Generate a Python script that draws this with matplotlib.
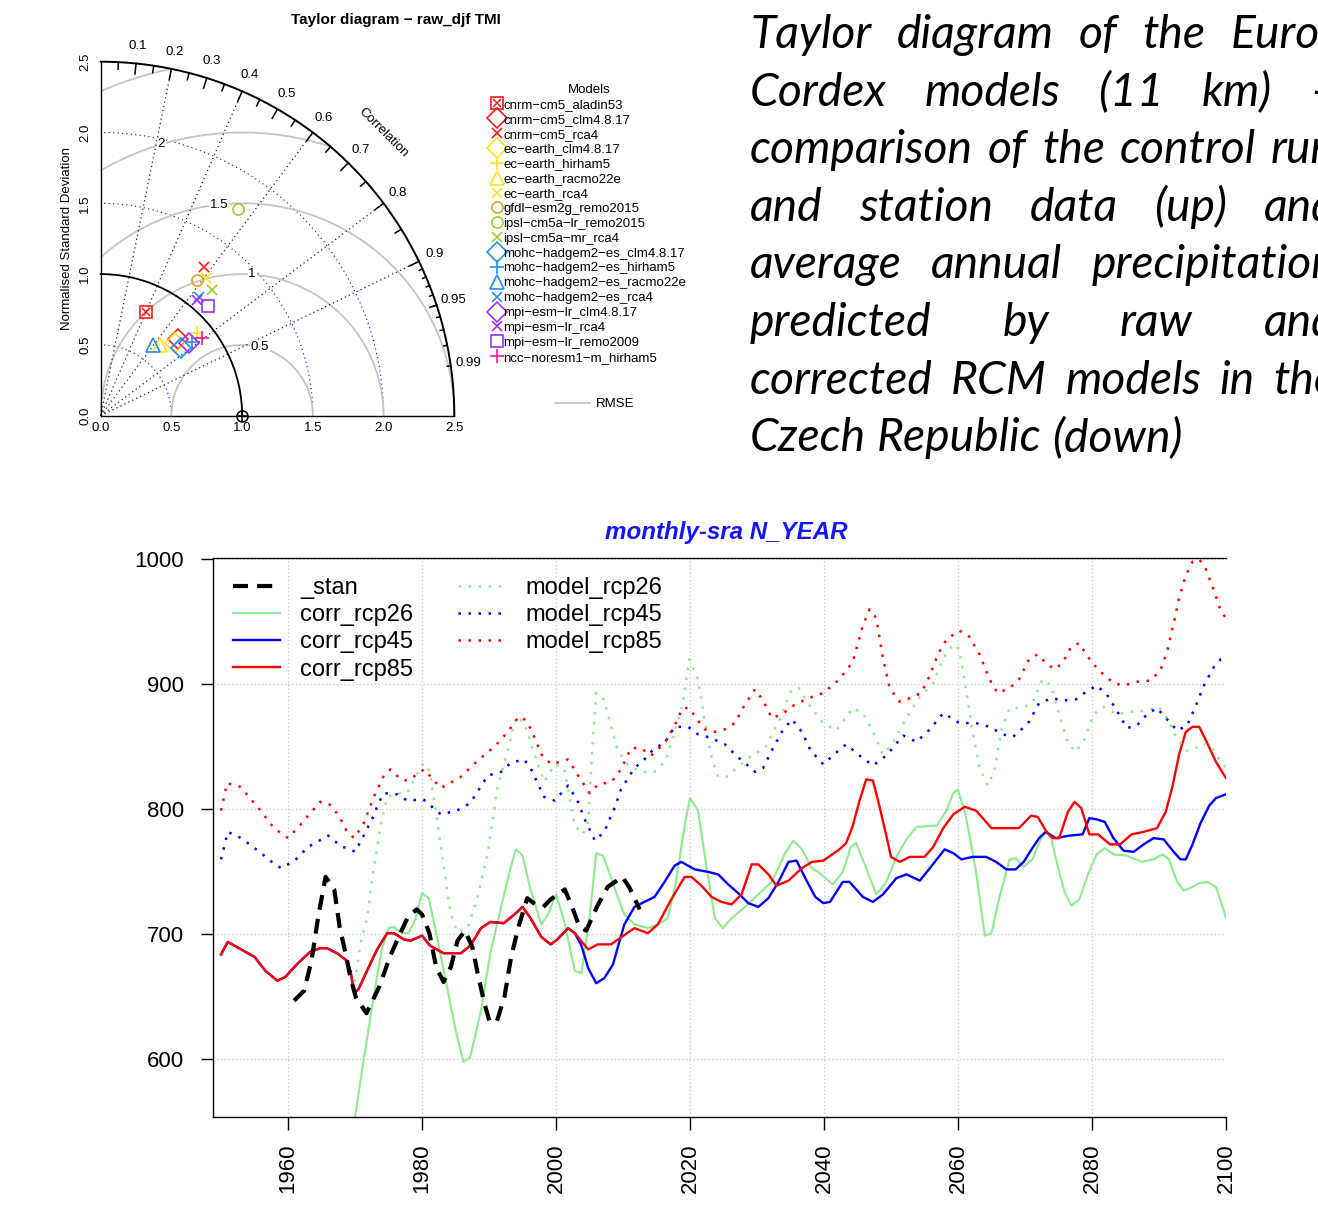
import numpy as np
import matplotlib
matplotlib.use('Agg')
import matplotlib.pyplot as plt
from matplotlib.lines import Line2D

plt.rcParams['font.family'] = ['Liberation Sans', 'DejaVu Sans']

W, H = 1318, 1231

# ---------------- Taylor diagram data ----------------
model_names = ['cnrm−cm5_aladin53', 'cnrm−cm5_clm4.8.17', 'cnrm−cm5_rca4',
               'ec−earth_clm4.8.17', 'ec−earth_hirham5', 'ec−earth_racmo22e',
               'ec−earth_rca4', 'gfdl−esm2g_remo2015', 'ipsl−cm5a−lr_remo2015',
               'ipsl−cm5a−mr_rca4', 'mohc−hadgem2−es_clm4.8.17', 'mohc−hadgem2−es_hirham5',
               'mohc−hadgem2−es_racmo22e', 'mohc−hadgem2−es_rca4', 'mpi−esm−lr_clm4.8.17',
               'mpi−esm−lr_rca4', 'mpi−esm−lr_remo2009', 'ncc−noresm1−m_hirham5']
model_sd = [0.796, 0.770, 1.281, 0.733, 0.894, 0.652, 1.222, 1.177, 1.755,
            1.185, 0.740, 0.829, 0.621, 1.092, 0.809, 1.063, 1.086, 0.899]
model_corr = [0.399, 0.713, 0.570, 0.716, 0.759, 0.642, 0.607, 0.580, 0.554,
              0.662, 0.765, 0.776, 0.593, 0.638, 0.775, 0.639, 0.701, 0.794]
model_colors = ['#FF1A1A', '#FF1A1A', '#FF1A1A', '#FFE21A', '#FFE21A', '#FFE21A',
                '#FFE21A', '#D4A62A', '#9ACD32', '#9ACD32', '#1E8FFF', '#1E8FFF',
                '#1E8FFF', '#1E8FFF', '#9B30FF', '#9B30FF', '#9B30FF', '#FF1493']
model_marks = ['sx', 'D', 'x', 'D', '+', '^', 'x', 'o', 'o', 'x',
               'D', '+', '^', 'x', 'D', 'x', 's', '+']

sd_arcs = [0.5, 1.0, 1.5, 2.0, 2.5]
rmse_levels = [0.5, 1.0, 1.5, 2.0, 2.5]
corr_lines = [0.2, 0.4, 0.6, 0.8, 0.9]
corr_labels = [0.1, 0.2, 0.3, 0.4, 0.5, 0.6, 0.7, 0.8, 0.9, 0.95, 0.99]
sd_ticks = [0.0, 0.5, 1.0, 1.5, 2.0, 2.5]
maxsd = 2.5

# ---------------- time series data (year, value) ----------------
stan = np.array([
    (1960.9, 647), (1962.4, 655), (1963.5, 679), (1964.5, 714), (1965.6, 746),
    (1966.9, 736), (1967.7, 706), (1968.5, 687), (1969.3, 666), (1970.1, 650),
    (1971.7, 637), (1973.6, 658), (1975.2, 682), (1976.5, 698), (1977.9, 714),
    (1979.2, 720), (1980.0, 716), (1981.1, 701), (1982.1, 674), (1983.2, 662),
    (1984.3, 674), (1985.3, 695), (1986.4, 703), (1987.5, 690), (1988.3, 669),
    (1989.3, 645), (1990.1, 630), (1991.2, 631), (1992.3, 650), (1993.3, 682),
    (1994.4, 706), (1995.7, 729), (1996.9, 724), (1998.1, 722), (1999.2, 728),
    (2001.3, 736), (2002.4, 722), (2003.5, 706), (2004.5, 703), (2006.1, 722),
    (2007.7, 738), (2009.9, 746), (2010.9, 738), (2012.5, 720)])

corr_hist = np.array([
    (1950.0, 684), (1951.0, 694), (1953.0, 688), (1955.0, 682), (1956.6, 671),
    (1958.4, 663), (1959.6, 666), (1961.3, 676), (1963.3, 686), (1964.8, 689),
    (1965.8, 689), (1967.3, 685), (1968.8, 679), (1969.3, 671), (1969.9, 653),
    (1970.5, 656), (1971.8, 671), (1973.3, 688), (1974.8, 701), (1975.8, 701),
    (1977.3, 696), (1978.3, 695), (1980.0, 699), (1981.2, 691), (1983.2, 685),
    (1985.8, 685), (1987.2, 691), (1988.8, 705), (1990.2, 710), (1992.2, 709),
    (1993.8, 716), (1995.0, 722), (1996.2, 713), (1997.8, 698), (1999.2, 692),
    (2000.2, 696), (2001.8, 705), (2002.8, 701)])

corr_rcp45_fut = np.array([
    (2003.8, 691), (2004.8, 673), (2006.0, 661), (2007.2, 665), (2008.5, 676),
    (2009.5, 695), (2010.2, 708), (2011.7, 722), (2013.2, 726), (2014.7, 730),
    (2016.2, 742), (2017.7, 755), (2018.7, 758), (2020.7, 752), (2022.7, 750),
    (2024.2, 748), (2025.7, 740), (2027.2, 733), (2028.7, 725), (2030.2, 722),
    (2031.7, 729), (2033.2, 742), (2034.7, 758), (2035.9, 759), (2037.2, 745),
    (2038.7, 730), (2039.9, 725), (2040.9, 726), (2042.8, 742), (2043.8, 742),
    (2045.8, 730), (2047.3, 726), (2048.8, 732), (2050.8, 745), (2052.3, 748),
    (2054.3, 743), (2055.8, 753), (2058.0, 768), (2059.3, 765), (2060.5, 760),
    (2062.2, 762), (2064.2, 762), (2065.7, 758), (2067.2, 752), (2068.6, 752),
    (2069.8, 758), (2071.1, 769), (2072.1, 777), (2073.1, 782), (2074.6, 777),
    (2076.6, 779), (2078.6, 780), (2079.6, 793), (2080.7, 792), (2081.9, 790),
    (2083.2, 777), (2084.7, 767), (2086.2, 766), (2087.7, 772), (2089.2, 777),
    (2090.7, 776), (2092.2, 766), (2093.2, 760), (2094.0, 760), (2095.0, 772),
    (2096.2, 789), (2097.5, 803), (2098.5, 809), (2100.0, 812)])

corr_rcp85_fut = np.array([
    (2004.8, 688), (2006.2, 692), (2008.2, 692), (2009.8, 698), (2011.7, 705),
    (2013.7, 701), (2015.2, 708), (2017.2, 728), (2019.2, 746), (2020.2, 746),
    (2021.7, 739), (2023.2, 730), (2024.7, 726), (2026.2, 724), (2027.7, 732),
    (2029.2, 756), (2030.2, 756), (2031.7, 748), (2032.9, 739), (2034.7, 743),
    (2036.7, 753), (2038.2, 758), (2039.9, 759), (2042.3, 768), (2043.3, 773),
    (2044.3, 787), (2045.3, 807), (2046.3, 824), (2047.3, 823), (2048.3, 802),
    (2049.3, 779), (2050.0, 762), (2051.3, 758), (2052.8, 762), (2055.0, 762),
    (2056.3, 770), (2057.8, 785), (2059.3, 796), (2061.0, 802), (2062.7, 799),
    (2065.0, 785), (2067.7, 785), (2069.1, 785), (2070.9, 795), (2071.9, 794),
    (2073.1, 783), (2074.1, 777), (2075.1, 777), (2076.4, 798), (2077.4, 806),
    (2078.4, 801), (2079.6, 780), (2080.9, 780), (2082.7, 772), (2084.2, 772),
    (2085.9, 780), (2087.7, 782), (2089.7, 785), (2091.0, 798), (2092.0, 818),
    (2093.0, 844), (2094.0, 862), (2095.0, 866), (2096.0, 866), (2097.2, 853),
    (2098.5, 838), (2100.0, 825)])

corr_rcp26 = np.array([
    (1970.0, 554), (1971.3, 600), (1972.8, 651), (1974.0, 688), (1975.0, 705),
    (1975.8, 706), (1977.0, 701), (1978.0, 701), (1979.0, 712), (1980.0, 733),
    (1981.0, 729), (1982.2, 699), (1983.8, 656), (1985.2, 619), (1986.2, 598),
    (1987.2, 602), (1988.8, 639), (1990.2, 685), (1991.8, 722), (1993.2, 753),
    (1994.0, 768), (1995.0, 763), (1996.2, 736), (1997.8, 708), (1998.8, 716),
    (2000.0, 732), (2001.2, 711), (2002.8, 671), (2003.8, 669), (2005.0, 713),
    (2006.0, 765), (2007.0, 763), (2008.2, 746), (2009.2, 730), (2010.2, 716),
    (2011.7, 708), (2013.7, 705), (2015.2, 708), (2016.7, 713), (2017.9, 742),
    (2019.2, 787), (2020.0, 809), (2021.2, 799), (2022.4, 756), (2023.7, 713),
    (2024.9, 705), (2026.2, 713), (2028.2, 722), (2030.2, 732), (2032.2, 742),
    (2034.2, 765), (2035.4, 775), (2036.7, 768), (2038.2, 753), (2039.4, 749),
    (2041.3, 740), (2042.8, 750), (2044.0, 770), (2044.8, 773), (2046.3, 753),
    (2047.8, 732), (2049.3, 742), (2050.8, 762), (2052.3, 776), (2053.8, 786),
    (2056.8, 787), (2058.3, 799), (2059.3, 813), (2060.0, 816), (2061.2, 794),
    (2062.7, 750), (2064.0, 699), (2065.0, 701), (2066.2, 730), (2067.7, 760),
    (2068.6, 761), (2069.8, 754), (2071.1, 760), (2072.4, 777), (2073.1, 782),
    (2073.9, 777), (2074.9, 754), (2075.9, 734), (2076.9, 723), (2078.1, 728),
    (2079.4, 748), (2080.7, 764), (2081.9, 769), (2083.2, 764), (2085.2, 763),
    (2087.4, 758), (2089.2, 760), (2090.5, 764), (2091.5, 760), (2092.7, 742),
    (2093.7, 735), (2095.0, 738), (2096.0, 741), (2097.2, 742), (2098.5, 738),
    (2099.5, 722), (2100.0, 713)])

model_rcp26 = np.array([
    (1970.0, 662), (1970.8, 693), (1971.8, 713), (1972.5, 742), (1973.3, 770),
    (1974.0, 793), (1974.8, 810), (1976.3, 813), (1977.8, 813), (1979.0, 826),
    (1980.2, 837), (1981.2, 830), (1982.2, 793), (1983.2, 756), (1984.2, 719),
    (1985.2, 702), (1986.8, 705), (1988.2, 728), (1989.8, 765), (1991.2, 816),
    (1992.8, 847), (1994.0, 874), (1995.2, 870), (1996.8, 844), (1998.2, 822),
    (1999.8, 836), (2001.2, 833), (2002.8, 787), (2004.0, 780), (2004.8, 790),
    (2005.5, 856), (2006.0, 893), (2007.0, 890), (2008.2, 867), (2009.2, 847),
    (2010.7, 836), (2012.7, 830), (2014.7, 830), (2016.4, 839), (2017.7, 862),
    (2018.9, 884), (2019.9, 920), (2021.2, 904), (2022.2, 870), (2023.2, 842),
    (2024.2, 826), (2025.4, 826), (2027.2, 834), (2029.2, 843), (2031.2, 849),
    (2033.2, 870), (2035.2, 896), (2036.2, 897), (2037.7, 884), (2039.7, 870),
    (2041.8, 863), (2044.3, 881), (2045.8, 877), (2047.3, 862), (2048.8, 844),
    (2050.3, 853), (2052.3, 873), (2054.3, 890), (2056.3, 901), (2057.8, 921),
    (2059.3, 932), (2060.2, 928), (2061.2, 896), (2062.2, 862), (2063.2, 833),
    (2064.5, 819), (2065.5, 833), (2066.5, 864), (2067.7, 881), (2069.6, 881),
    (2071.1, 885), (2072.6, 904), (2073.9, 899), (2075.1, 876), (2076.4, 853),
    (2077.6, 846), (2078.9, 856), (2080.2, 876), (2081.7, 882), (2083.7, 876),
    (2085.7, 878), (2088.2, 879), (2089.9, 882), (2091.2, 873), (2092.7, 856),
    (2094.2, 847), (2095.5, 849), (2096.7, 853), (2098.2, 847), (2099.2, 838),
    (2100.0, 833)])

model_rcp45 = np.array([
    (1950.0, 760), (1951.0, 782), (1953.0, 777), (1956.0, 765), (1958.0, 756),
    (1959.0, 753), (1961.0, 759), (1963.0, 770), (1965.0, 776), (1966.0, 779),
    (1968.0, 770), (1969.0, 769), (1970.0, 766), (1971.3, 779), (1972.8, 795),
    (1973.5, 805), (1974.3, 813), (1976.3, 812), (1977.8, 807), (1980.2, 808),
    (1982.8, 796), (1985.2, 799), (1987.2, 805), (1989.8, 827), (1991.8, 830),
    (1993.2, 837), (1995.2, 840), (1996.2, 833), (1998.2, 810), (1999.8, 807),
    (2001.8, 819), (2003.2, 807), (2004.2, 793), (2005.8, 775), (2007.2, 782),
    (2008.8, 802), (2009.7, 816), (2011.7, 833), (2013.2, 840), (2014.7, 849),
    (2016.2, 853), (2017.7, 866), (2019.7, 866), (2021.2, 860), (2023.2, 857),
    (2025.2, 852), (2026.7, 844), (2028.2, 837), (2029.7, 830), (2030.9, 833),
    (2032.2, 847), (2033.7, 862), (2035.2, 872), (2036.7, 862), (2038.0, 847),
    (2039.9, 836), (2041.3, 843), (2043.3, 852), (2045.3, 843), (2047.3, 835),
    (2049.3, 843), (2051.8, 859), (2053.8, 854), (2055.8, 864), (2057.8, 877),
    (2060.2, 869), (2062.7, 869), (2064.7, 866), (2066.7, 860), (2068.2, 858),
    (2069.1, 862), (2070.6, 870), (2072.1, 885), (2074.1, 889), (2075.6, 887),
    (2077.6, 888), (2079.1, 894), (2080.7, 899), (2082.2, 892), (2083.7, 879),
    (2085.2, 865), (2086.7, 867), (2088.2, 876), (2089.7, 881), (2091.2, 872),
    (2092.7, 863), (2094.2, 867), (2095.5, 883), (2096.7, 899), (2098.2, 914),
    (2099.2, 920), (2100.0, 921)])

model_rcp85 = np.array([
    (1950.0, 799), (1950.9, 821), (1952.9, 818), (1955.9, 799), (1957.9, 785),
    (1960.0, 777), (1961.6, 786), (1963.3, 797), (1964.8, 806), (1966.0, 805),
    (1967.6, 795), (1968.8, 782), (1969.9, 777), (1971.3, 789), (1972.8, 810),
    (1974.3, 827), (1975.3, 832), (1976.8, 824), (1977.8, 823), (1979.3, 828),
    (1980.3, 832), (1982.8, 817), (1985.8, 826), (1988.3, 839), (1990.8, 850),
    (1992.8, 862), (1994.3, 873), (1995.0, 874), (1996.3, 864), (1997.8, 844),
    (1999.3, 836), (2001.8, 840), (2003.3, 827), (2005.0, 813), (2006.3, 820),
    (2008.3, 822), (2009.8, 833), (2011.2, 849), (2012.7, 849), (2014.2, 843),
    (2016.2, 853), (2017.7, 867), (2018.9, 881), (2019.9, 881), (2020.9, 873),
    (2022.2, 864), (2023.7, 862), (2025.2, 864), (2026.7, 869), (2028.2, 884),
    (2029.7, 896), (2030.9, 887), (2032.2, 873), (2033.7, 876), (2035.7, 884),
    (2037.7, 889), (2039.9, 893), (2042.3, 904), (2044.3, 918), (2045.8, 947),
    (2046.8, 960), (2047.8, 953), (2048.8, 921), (2049.8, 897), (2051.3, 886),
    (2052.8, 889), (2054.5, 893), (2055.8, 907), (2057.0, 924), (2058.3, 936),
    (2060.2, 943), (2061.7, 938), (2063.2, 924), (2064.7, 904), (2065.9, 893),
    (2067.7, 897), (2069.1, 904), (2070.6, 920), (2071.9, 924), (2073.1, 917),
    (2074.4, 912), (2075.6, 917), (2076.9, 930), (2078.1, 933), (2079.1, 924),
    (2080.4, 915), (2081.7, 908), (2083.2, 901), (2084.7, 899), (2086.7, 902),
    (2088.7, 903), (2090.2, 911), (2091.2, 926), (2092.2, 949), (2093.0, 969),
    (2094.0, 987), (2095.0, 998), (2096.0, 1000), (2097.0, 992), (2098.2, 975),
    (2099.2, 959), (2100.0, 953)])

corr_rcp45 = np.vstack([corr_hist, corr_rcp45_fut])
corr_rcp85 = np.vstack([corr_hist, corr_rcp85_fut])

caption = ['Taylor diagram of the Euro-', 'Cordex models (11 km) –',
           'comparison of the control run', 'and station data (up) and',
           'average annual precipitation', 'predicted by raw and',
           'corrected RCM models in the', 'Czech Republic (down)']

fig = plt.figure(figsize=(W / 100, H / 100), dpi=100)

# ================= Taylor diagram =================
tax = fig.add_axes([100.7 / W, 1 - 415.7 / H, 353.6 / W, 354 / H])
tax.set_xlim(0, maxsd)
tax.set_ylim(0, maxsd)
tax.axis('off')

th = np.linspace(0, np.pi / 2, 300)
for r in sd_arcs:
    tax.plot(r * np.cos(th), r * np.sin(th), color='blue', lw=0.8,
             ls=(0, (1, 3)), clip_on=False)

# RMSE arcs centred on the reference point
lab_idx = np.floor(np.linspace(45, 70, len(rmse_levels)))
for r, li in zip(rmse_levels, lab_idx):
    t = np.linspace(0, np.pi, 600)
    x = 1 + r * np.cos(t)
    y = r * np.sin(t)
    m = (x >= 0) & (x ** 2 + y ** 2 <= maxsd ** 2 + 1e-9)
    tax.plot(x[m], y[m], color='#C4C4C4', lw=1.3, clip_on=False)
    a = (li - 1) * 0.03
    lx, ly = 1 + r * np.cos(a), r * np.sin(a)
    if lx > 0:
        tax.text(lx, ly, f'{r:g}', fontsize=9.5, ha='center', va='center',
                 bbox=dict(facecolor='white', edgecolor='none', pad=0.5))

for c in corr_lines:
    a = np.arccos(c)
    tax.plot([0, maxsd * np.cos(a)], [0, maxsd * np.sin(a)], color='#222222',
             lw=0.9, ls=(0, (1, 2.5)), clip_on=False)

# outer arc, reference arc, axes
tax.plot(maxsd * np.cos(th), maxsd * np.sin(th), color='black', lw=1.4, clip_on=False)
tax.plot(np.cos(th), np.sin(th), color='black', lw=1.3, clip_on=False)
tax.plot([0, maxsd], [0, 0], color='black', lw=1.0, clip_on=False)
tax.plot([0, 0], [0, maxsd], color='black', lw=1.0, clip_on=False)

for vals, frac in [(np.arange(0.1, 0.91, 0.1), 0.97),
                   (np.arange(0.05, 0.96, 0.1), 0.98),
                   (np.arange(0.91, 0.995, 0.01), 0.99)]:
    for c in vals:
        a = np.arccos(c)
        tax.plot([maxsd * np.cos(a), frac * maxsd * np.cos(a)],
                 [maxsd * np.sin(a), frac * maxsd * np.sin(a)],
                 color='black', lw=1.1, clip_on=False)
for c in corr_labels:
    a = np.arccos(c)
    tax.text(1.05 * maxsd * np.cos(a), 1.05 * maxsd * np.sin(a), f'{c:g}',
             fontsize=9.5, ha='center', va='center')
tax.text(0.8 * maxsd, 0.8 * maxsd, 'Correlation', rotation=-45, fontsize=9.5,
         ha='center', va='center')

for v in sd_ticks:
    tax.text(v, -0.09, f'{v:.1f}', fontsize=9.5, ha='center', va='center')
    tax.text(-0.11, v, f'{v:.1f}', fontsize=9.5, ha='center', va='center', rotation=90)
tax.text(-0.235, 1.25, 'Normalised Standard Deviation', fontsize=9.5, rotation=90,
         ha='center', va='center')

tax.plot(1, 0, marker='o', ms=8, mfc='none', mec='black', mew=1.1, clip_on=False)
tax.plot(1, 0, marker='+', ms=8, mec='black', mew=1.1, clip_on=False)

mk_size = {'D': 10, '^': 9.5, 'x': 7.5, '+': 9.5, 'o': 8, 's': 8, 'sx': 8}


def mark_handles(m, c, ms):
    if m == 'sx':
        return (Line2D([], [], ls='none', marker='s', ms=ms, mfc='none', mec=c, mew=1.2),
                Line2D([], [], ls='none', marker='x', ms=ms * 0.75, mec=c, mew=1.1))
    return Line2D([], [], ls='none', marker=m, ms=ms, mfc='none', mec=c, mew=1.2)


leg_handles = []
for sd, cr, col, m in zip(model_sd, model_corr, model_colors, model_marks):
    x, y = sd * cr, sd * np.sqrt(1 - cr ** 2)
    h = mark_handles(m, col, mk_size[m])
    for hh in (h if isinstance(h, tuple) else (h,)):
        tax.plot(x, y, ls='none', marker=hh.get_marker(), ms=hh.get_markersize(),
                 mfc='none', mec=col, mew=hh.get_markeredgewidth(), clip_on=False)
    leg_handles.append(h)

fig.legend(leg_handles, model_names, title='Models', loc='upper left',
           bbox_to_anchor=(492 / W, 1 - 84 / H), frameon=False, fontsize=9.5,
           title_fontsize=9.5, labelspacing=0.2, handlelength=0.7,
           handletextpad=0.15, borderpad=0, borderaxespad=0)
fig.legend([Line2D([], [], color='#C4C4C4', lw=1.3)], ['RMSE'], loc='upper left',
           bbox_to_anchor=(556 / W, 1 - 398 / H), frameon=False, fontsize=9.5,
           handlelength=2.6, handletextpad=0.4, borderpad=0, borderaxespad=0)

fig.text(396 / W, 1 - 20 / H, 'Taylor diagram − raw_djf TMI', ha='center',
         va='center', fontsize=11, fontweight='bold')

# ================= caption text (justified) =================
renderer = fig.canvas.get_renderer()
cap_font = dict(family=['Lato', 'DejaVu Sans'], style='italic')


def text_width(s, size):
    t = fig.text(0, 0, s, fontsize=size, **cap_font)
    w = t.get_window_extent(renderer=renderer).width
    t.remove()
    return w


cap_size = 30 * 432 / text_width(caption[-1], 30)
left_px, right_px = 750, 1336
space_px = text_width('a a', cap_size) - text_width('aa', cap_size)
for i, line in enumerate(caption):
    words = line.split()
    widths = [text_width(w, cap_size) for w in words]
    if i == len(caption) - 1:
        gap = space_px
    else:
        gap = (right_px - left_px - sum(widths)) / (len(words) - 1)
    xpos = left_px
    base = 48 + 57.6 * i
    for w, wd in zip(words, widths):
        fig.text(xpos / W, 1 - base / H, w, fontsize=cap_size, ha='left',
                 va='baseline', **cap_font)
        xpos += wd + gap

# ================= time series =================
ax = fig.add_axes([213 / W, (H - 1117) / H, 1013 / W, 559 / H])

green, blue, red = '#8EEA8E', '#0000FF', '#FF0000'
dot = (0, (1, 3))
h_c26, = ax.plot(corr_rcp26[:, 0], corr_rcp26[:, 1], color=green, lw=1.5)
h_c45, = ax.plot(corr_rcp45[:, 0], corr_rcp45[:, 1], color=blue, lw=1.7)
h_c85, = ax.plot(corr_rcp85[:, 0], corr_rcp85[:, 1], color=red, lw=1.7)
h_m26, = ax.plot(model_rcp26[:, 0], model_rcp26[:, 1], color=green, lw=1.8, ls=dot)
h_m45, = ax.plot(model_rcp45[:, 0], model_rcp45[:, 1], color=blue, lw=1.8, ls=dot)
h_m85, = ax.plot(model_rcp85[:, 0], model_rcp85[:, 1], color=red, lw=1.8, ls=dot)
h_st, = ax.plot(stan[:, 0], stan[:, 1], color='black', lw=3.0, ls=(0, (3.6, 2.2)))

ax.set_xlim(1948.8, 2100)
ax.set_ylim(554, 1001)
ax.set_xticks(range(1960, 2101, 20))
ax.set_yticks(range(600, 1001, 100))
ax.tick_params(axis='x', labelrotation=90, labelsize=16, length=9, width=1, pad=10)
ax.tick_params(axis='y', labelsize=16, length=9, width=1, pad=12)
ax.grid(True, color='#C8C8C8', ls=(0, (1, 2)), lw=0.9)
ax.spines['right'].set_visible(False)
for s in ['left', 'top', 'bottom']:
    ax.spines[s].set_linewidth(1.0)

ax.legend([h_st, h_c26, h_c45, h_c85, h_m26, h_m45, h_m85],
          ['_stan', 'corr_rcp26', 'corr_rcp45', 'corr_rcp85',
           'model_rcp26', 'model_rcp45', 'model_rcp85'],
          ncol=2, loc='upper left', bbox_to_anchor=(0.0197, 0.966),
          frameon=False, fontsize=17, labelspacing=0.22, handlelength=2.0,
          handletextpad=0.85, columnspacing=1.9, borderpad=0, borderaxespad=0)

fig.text(726 / W, 1 - 533 / H, 'monthly-sra N_YEAR', ha='center', va='center',
         fontsize=17.4, fontweight='bold', fontstyle='italic', color='#1414FF')

fig.savefig('out.png', dpi=100)
